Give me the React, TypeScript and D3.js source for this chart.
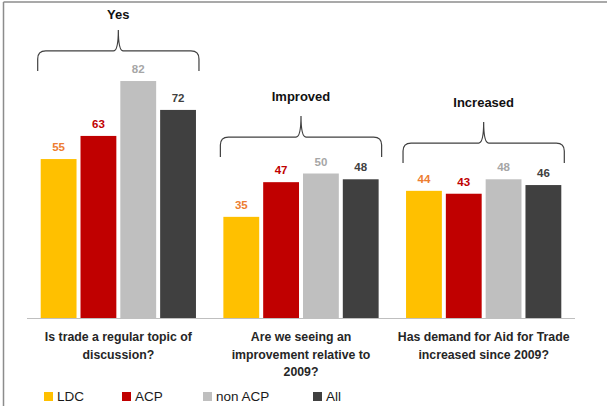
import React from "react";
import * as d3 from "d3";

const categories = ["q1", "q2", "q3"];
const categoryLines = [
  ["Is trade a regular topic of", "discussion?"],
  ["Are we seeing an", "improvement relative to", "2009?"],
  ["Has demand for Aid for Trade", "increased since 2009?"],
];
const groupTitles = ["Yes", "Improved", "Increased"];
const braceLevels = [85.5, 55.7, 53.6];
const series = ["LDC", "ACP", "non ACP", "All"];
const LDC = [55, 35, 44];
const ACP = [63, 47, 43];
const nonACP = [82, 50, 48];
const All = [72, 48, 46];
const seriesValues = [LDC, ACP, nonACP, All];
const barColors = ["#FFC000", "#C00000", "#BFBFBF", "#404040"];
const labelColors = ["#ED7D31", "#C00000", "#A6A6A6", "#404040"];

const W = 607;
const H = 406;
const FONT = "'Liberation Sans', Arial, sans-serif";

export default function App() {
  const y = d3.scaleLinear().domain([0, 100]).range([318, 29]);
  const x0 = d3
    .scaleBand<string>()
    .domain(categories)
    .range([27, 575])
    .paddingInner(0.15)
    .paddingOuter(0.075);
  const x1 = d3
    .scaleBand<string>()
    .domain(series)
    .range([0, x0.bandwidth()])
    .paddingInner(0.1)
    .paddingOuter(0);

  const bracePath = (l: number, r: number, b: number) => {
    const hy = b - 20;
    const peak = hy - 21;
    const m = (l + r) / 2;
    return [
      `M${l},${b}`,
      `L${l},${hy + 8}`,
      `Q${l},${hy} ${l + 8},${hy}`,
      `L${m - 5},${hy}`,
      `Q${m},${hy} ${m},${peak}`,
      `Q${m},${hy} ${m + 5},${hy}`,
      `L${r - 8},${hy}`,
      `Q${r},${hy} ${r},${hy + 8}`,
      `L${r},${b}`,
    ].join(" ");
  };

  return (
    <svg
      width={W}
      height={H}
      style={{ position: "absolute", left: 0, top: 0, background: "#fff" }}
      fontFamily={FONT}
    >
      <rect x={0} y={0} width={W} height={H} fill="#fff" />
      <line x1={3.5} y1={2} x2={W} y2={2} stroke="#8c8c8c" strokeWidth={1.5} />
      <line x1={3.5} y1={2} x2={3.5} y2={H} stroke="#8c8c8c" strokeWidth={1.5} />

      {categories.map((c, ci) => {
        const gx = x0(c)!;
        const l = gx - 3;
        const r = gx + x0.bandwidth() + 3;
        const b = y(braceLevels[ci]);
        const peak = b - 41;
        return (
          <g key={c}>
            {series.map((s, si) => {
              const v = seriesValues[si][ci];
              const bx = gx + x1(s)!;
              return (
                <g key={s}>
                  <rect
                    x={bx}
                    y={y(v)}
                    width={x1.bandwidth()}
                    height={y(0) - y(v)}
                    fill={barColors[si]}
                  />
                  <text
                    x={bx + x1.bandwidth() / 2}
                    y={y(v) - 8}
                    textAnchor="middle"
                    fontSize={11.5}
                    fontWeight="bold"
                    fill={labelColors[si]}
                  >
                    {v}
                  </text>
                </g>
              );
            })}
            <path d={bracePath(l, r, b)} fill="none" stroke="#404040" strokeWidth={1.2} />
            <text
              x={(l + r) / 2}
              y={Math.max(peak - 15, 19)}
              textAnchor="middle"
              fontSize={13}
              fontWeight="bold"
              fill="#111"
            >
              {groupTitles[ci]}
            </text>
            {categoryLines[ci].map((line, li) => (
              <text
                key={li}
                x={gx + x0.bandwidth() / 2}
                y={341 + li * 17.5}
                textAnchor="middle"
                fontSize={12.3}
                fontWeight="bold"
                fill="#262626"
              >
                {line}
              </text>
            ))}
          </g>
        );
      })}

      <line x1={27} y1={y(0) + 0.5} x2={575} y2={y(0) + 0.5} stroke="#BFBFBF" strokeWidth={1.2} />

      {series.map((s, si) => {
        const lx = [44, 122, 203, 313][si];
        return (
          <g key={s}>
            <rect x={lx} y={392} width={9} height={9} fill={barColors[si]} />
            <text x={lx + 13} y={401} fontSize={13.5} fill="#1a1a1a">
              {s}
            </text>
          </g>
        );
      })}
    </svg>
  );
}
